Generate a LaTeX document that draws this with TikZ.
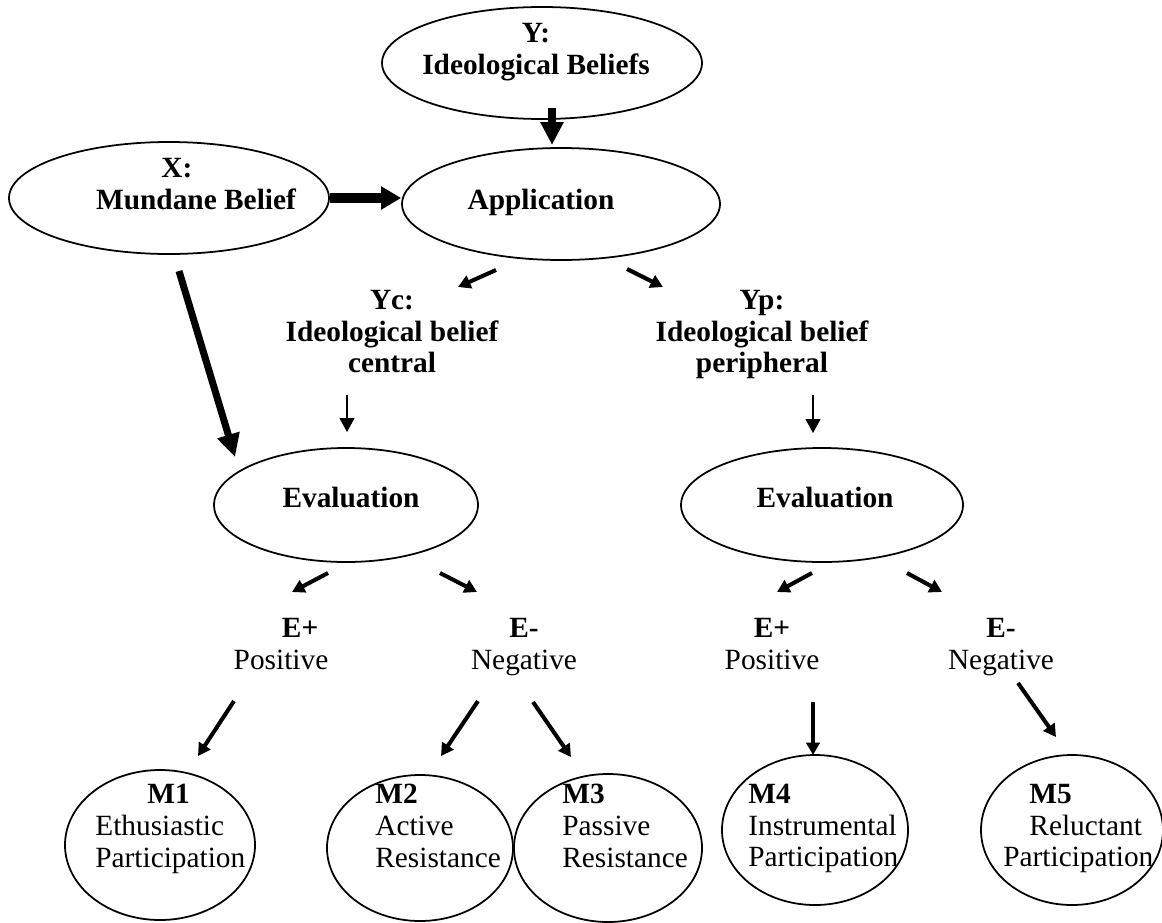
\documentclass[tikz,border=0pt]{standalone}
\usepackage{fontspec}
\setmainfont{Liberation Serif}
\usepackage{tikz}
\usetikzlibrary{shapes.geometric, arrows.meta}
\tikzset{
	ovalnode/.style={
			ellipse,
			draw=black,
			line width=1pt,
			inner sep=0pt
		},
	plainnode/.style={
			inner sep=0pt,
			align=center,
			font=\fontsize{16.7pt}{18pt}\selectfont
		},
	titlenode/.style={
			plainnode,
			font=\fontsize{16.7pt}{18pt}\selectfont\bfseries
		},
	modenode/.style={
			plainnode,
			align=left,
			anchor=north west
		},
	fatarrow/.style={
			line width=4pt,
			-{Triangle[length=0.46cm,width=0.44cm]}
		},
	widearrow/.style={
			line width=5.7pt,
			-{Triangle[length=0.4cm,width=0.44cm]}
		},
	midarrow/.style={
			line width=2.3pt,
			-{Triangle[length=0.25cm,width=0.27cm]}
		},
	thinarrow/.style={
			line width=0.6pt,
			-{Triangle[length=0.28cm,width=0.3cm]}
		}
}

\begin{document}
\begin{tikzpicture}
\useasboundingbox (0,0) rectangle (23.24,-18.44);

% ovals
\node[ovalnode, minimum width=6.4cm, minimum height=2.24cm] (ideo) at (10.84,-1.26) {};
\node[ovalnode, minimum width=6.4cm, minimum height=2.24cm] (mund) at (3.38,-3.96) {};
\node[ovalnode, minimum width=6.36cm, minimum height=2.24cm] (appl) at (11.22,-4.08) {};
\node[ovalnode, minimum width=5.28cm, minimum height=2.28cm] (evalc) at (6.92,-10.1) {};
\node[ovalnode, minimum width=5.64cm, minimum height=2.28cm] (evalp) at (16.44,-10.1) {};

\node[ovalnode, minimum width=3.8cm, minimum height=3cm] (m1) at (3.2,-16.9) {};
\node[ovalnode, minimum width=3.72cm, minimum height=2.92cm] (m2) at (8.4,-16.96) {};
\node[ovalnode, minimum width=3.76cm, minimum height=2.96cm] (m3) at (12.16,-16.96) {};
\node[ovalnode, minimum width=3.72cm, minimum height=3cm] (m4) at (16.3,-16.6) {};
\node[ovalnode, minimum width=3.64cm, minimum height=3cm] (m5) at (21.44,-16.6) {};

% labels
\node[titlenode, anchor=north] (ideotxt) at (10.72,-0.46) {Y:\\Ideological Beliefs};
\node[titlenode, anchor=north] (mundtxt) at (3.92,-3.16) {X:\hspace*{1.3em}\\Mundane Belief};
\node[titlenode, anchor=base] (appltxt) at (10.82,-4.18) {Application};
\node[titlenode, anchor=north] (cent) at (7.84,-5.8) {Yc:\\Ideological belief\\central};
\node[titlenode, anchor=north] (peri) at (15.24,-5.8) {Yp:\\Ideological belief\\peripheral};
\node[titlenode, anchor=base] (evalctxt) at (7.02,-10.14) {Evaluation};
\node[titlenode, anchor=base] (evalptxt) at (16.5,-10.14) {Evaluation};

\node[plainnode, anchor=north] (posc) at (5.62,-12.36) {\hspace*{1.3em}\textbf{E+}\\Positive};
\node[plainnode, anchor=north] (negc) at (10.48,-12.36) {\textbf{E-}\\Negative};
\node[plainnode, anchor=north] (posp) at (15.44,-12.36) {\textbf{E+}\\Positive};
\node[plainnode, anchor=north] (negp) at (20.02,-12.36) {\textbf{E-}\\Negative};

\node[modenode] (m1txt) at (1.9,-15.68) {\hspace*{1.77em}\textbf{M1}\\Ethusiastic\\Participation};
\node[modenode] (m2txt) at (7.5,-15.68) {\textbf{M2}\\Active\\Resistance};
\node[modenode] (m3txt) at (11.24,-15.68) {\textbf{M3}\\Passive\\Resistance};
\node[modenode] (m4txt) at (14.96,-15.68) {\textbf{M4}\\Instrumental\\Participation};
\node[modenode] (m5txt) at (20.06,-15.68) {\hspace*{0.89em}\textbf{M5}\\\hspace*{0.89em}Reluctant\\Participation};

% arrow ends
\coordinate (ideoout) at (11.04,-2.16);
\coordinate (applin) at (11.04,-2.9);
\coordinate (mundout) at (3.58,-5.42);
\coordinate (evalcin) at (4.7,-9.14);
\coordinate (applL) at (9.92,-5.4);
\coordinate (centin) at (9.16,-5.74);
\coordinate (applR) at (12.54,-5.38);
\coordinate (periin) at (13.26,-5.74);
\coordinate (centout) at (6.94,-7.9);
\coordinate (evalcup) at (6.94,-8.64);
\coordinate (periout) at (16.26,-7.9);
\coordinate (evalpup) at (16.26,-8.66);
\coordinate (evalcL) at (6.56,-11.46);
\coordinate (poscin) at (5.84,-11.84);
\coordinate (evalcR) at (8.8,-11.46);
\coordinate (negcin) at (9.54,-11.84);
\coordinate (evalpL) at (16.24,-11.46);
\coordinate (pospin) at (15.54,-11.84);
\coordinate (evalpR) at (18.14,-11.46);
\coordinate (negpin) at (18.84,-11.84);
\coordinate (poscout) at (4.68,-14.02);
\coordinate (m1in) at (3.96,-15.12);
\coordinate (negcL) at (9.56,-14.02);
\coordinate (m2in) at (8.82,-15.12);
\coordinate (negcR) at (10.66,-14.04);
\coordinate (m3in) at (11.42,-15.14);
\coordinate (pospout) at (16.26,-14.04);
\coordinate (m4in) at (16.26,-15.1);
\coordinate (negpout) at (20.36,-13.66);
\coordinate (m5in) at (21.12,-14.74);

\draw[fatarrow] (ideoout) -- (applin);
\draw[widearrow] (mund.east) -- (mund.east -| appl.west);
\draw[fatarrow] (mundout) -- (evalcin);

\draw[midarrow] (applL) -- (centin);
\draw[midarrow] (applR) -- (periin);

\draw[thinarrow] (centout) -- (evalcup);
\draw[thinarrow] (periout) -- (evalpup);

\draw[midarrow] (evalcL) -- (poscin);
\draw[midarrow] (evalcR) -- (negcin);
\draw[midarrow] (evalpL) -- (pospin);
\draw[midarrow] (evalpR) -- (negpin);

\draw[midarrow] (poscout) -- (m1in);
\draw[midarrow] (negcL) -- (m2in);
\draw[midarrow] (negcR) -- (m3in);
\draw[midarrow] (pospout) -- (m4in);
\draw[midarrow] (negpout) -- (m5in);
\end{tikzpicture}
\end{document}
